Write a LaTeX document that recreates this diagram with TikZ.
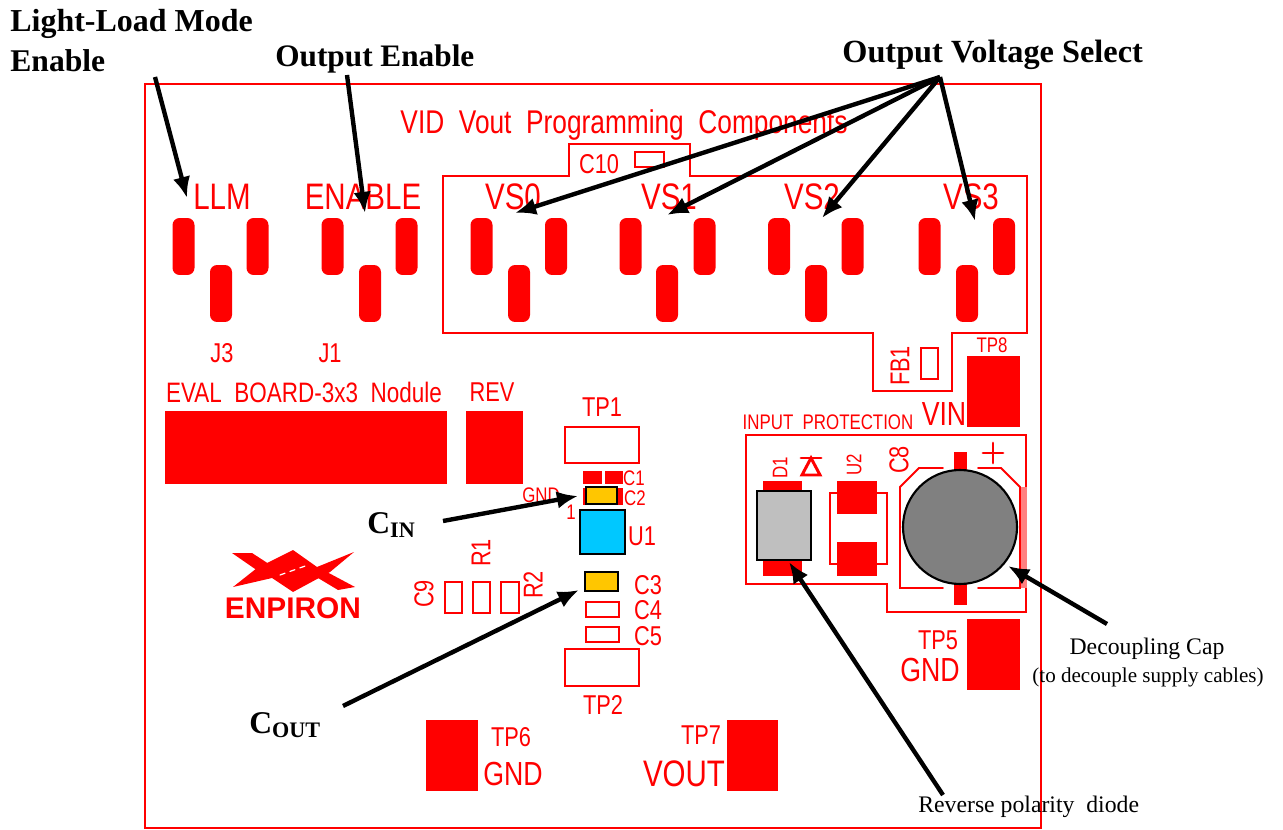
\documentclass[tikz,border=0pt]{standalone}
\usepackage{fontspec}
\setmainfont{Liberation Serif}
\setsansfont{Liberation Sans}
\newfontfamily\cadfont[FakeStretch=0.8]{Liberation Sans}
\usetikzlibrary{arrows.meta}

\definecolor{partorange}{HTML}{FFC600}
\definecolor{partblue}{HTML}{00C8FF}
\definecolor{partgray}{HTML}{BFBFBF}
\definecolor{bandred}{HTML}{FF8080}

\begin{document}
\begin{tikzpicture}[%
        x = 0.02cm,
        y = -0.02cm,
        line cap = round,
        > = {Latex[length = 12pt, width = 10pt]},
        trace/.style = {draw = red, line width = 1.1pt},
        pad/.style = {fill = red, inner sep = 0, minimum width = 0.44cm, minimum height = 1.14cm, rounded corners = 4pt},
        cadbig/.style = {text = red, inner sep = 0, font = \cadfont\fontsize{21}{21}\selectfont},
        cadgnd/.style = {text = red, inner sep = 0, font = \cadfont\fontsize{19}{19}\selectfont},
        cadmid/.style = {text = red, inner sep = 0, font = \cadfont\fontsize{15.5}{16}\selectfont},
        cadsmall/.style = {text = red, inner sep = 0, font = \cadfont\fontsize{12}{12}\selectfont},
        callout/.style = {->, line width = 2.5pt, line cap = butt},
        boldnote/.style = {inner sep = 0, anchor = base west, font = \bfseries\fontsize{18}{18}\selectfont},
        thinnote/.style = {inner sep = 0, anchor = base, font = \fontsize{13.5}{14}\selectfont}
    ]
        \useasboundingbox (0, 0) rectangle (1283, 830);

        % Board edge and the two copper outlines.
        \draw[trace] (145, 84) rectangle (1041, 828);
        \draw[trace] (443, 176) to (569, 176) to (569, 144) to (690, 144) to (690, 176) to (1027, 176)
            to (1027, 333) to (952, 333) to (952, 391) to (873, 391) to (873, 333) to (443, 333) to cycle;
        \draw[trace] (746, 435) to (1026, 435) to (1026, 612) to (887, 612) to (887, 584) to (746, 584) to cycle;

        % Jumpers along the top.
        \node[pad] (llmA) at (183.5, 246.5) {};
        \node[pad] (llmB) at (257.5, 246.5) {};
        \node[pad] (llmC) at (221, 293.5) {};
        \node[pad] (enableA) at (332.5, 246.5) {};
        \node[pad] (enableB) at (406.5, 246.5) {};
        \node[pad] (enableC) at (370, 293.5) {};
        \node[pad] (vszeroA) at (481.5, 246.5) {};
        \node[pad] (vszeroB) at (556, 246.5) {};
        \node[pad] (vszeroC) at (519, 293.5) {};
        \node[pad] (vsoneA) at (630.5, 246.5) {};
        \node[pad] (vsoneB) at (704.5, 246.5) {};
        \node[pad] (vsoneC) at (667, 293.5) {};
        \node[pad] (vstwoA) at (779, 246.5) {};
        \node[pad] (vstwoB) at (852.5, 246.5) {};
        \node[pad] (vstwoC) at (816, 293.5) {};
        \node[pad] (vsthreeA) at (929.5, 246.5) {};
        \node[pad] (vsthreeB) at (1004, 246.5) {};
        \node[pad] (vsthreeC) at (967, 293.5) {};

        % Silkscreen text for the upper half.
        \node[cadmid, font = \cadfont\fontsize{18.7}{19}\selectfont] (title) at (624, 125) {VID\ \ Vout\ \ Programming\ \ Components};
        \node[cadmid] (cten) at (599, 164) {C10};
        \node[cadbig] (llm) at (222, 197) {LLM};
        \node[cadbig] (enable) at (363, 197) {ENABLE};
        \node[cadbig] (vszero) at (513, 197) {VS0};
        \node[cadbig] (vsone) at (669, 197) {VS1};
        \node[cadbig] (vstwo) at (812, 197) {VS2};
        \node[cadbig] (vsthree) at (971, 197) {VS3};
        \node[cadmid] (jthree) at (222, 353) {J3};
        \node[cadmid] (jone) at (330, 353) {J1};
        \node[cadmid, font = \cadfont\fontsize{16}{16}\selectfont] (evalboard) at (304, 392) {EVAL\ \ BOARD-3x3\ \ Nodule};
        \node[cadmid] (rev) at (492, 392) {REV};
        \node[cadmid, rotate = 90] (fbone) at (900, 366) {FB1};
        \node[cadsmall] (tpeight) at (992, 345) {TP8};
        \node[cadgnd] (vin) at (944, 414) {VIN};
        \node[cadsmall] (inputprot) at (828, 422) {INPUT\ \ PROTECTION};

        % Solid copper areas.
        \fill[red] (165, 411) rectangle (447, 484);
        \fill[red] (466, 411) rectangle (523, 484);
        \fill[red] (967, 356) rectangle (1020, 427);
        \fill[red] (967, 619) rectangle (1020, 690);
        \fill[red] (426, 720) rectangle (478, 791);
        \fill[red] (727, 720) rectangle (778, 791);

        % Small parts around the module.
        \draw[trace] (635, 152) rectangle (664, 167);
        \draw[trace] (921, 348) rectangle (938, 379);
        \draw[trace] (565, 427) rectangle (639, 463);
        \draw[trace] (565, 649) rectangle (639, 686);
        \fill[red] (583, 471) rectangle (602, 484);
        \fill[red] (605, 471) rectangle (623, 484);
        \fill[red] (583, 488) rectangle (623, 505);
        \draw[trace] (445, 582) rectangle (462, 613);
        \draw[trace] (473, 582) rectangle (490, 613);
        \draw[trace] (501, 582) rectangle (519, 613);
        \draw[trace] (586, 602) rectangle (619, 617);
        \draw[trace] (586, 627) rectangle (619, 642);
        \draw[line width = 1.2pt, fill = partorange] (586, 487) rectangle (617, 504);
        \draw[line width = 1.2pt, fill = partorange] (585, 572) rectangle (618, 591);
        \draw[line width = 1.2pt, fill = partblue] (580, 510) rectangle (625, 554);

        \node[cadmid] (tpone) at (602, 407) {TP1};
        \node[cadsmall] (cone) at (634, 478) {C1};
        \node[cadsmall] (ctwo) at (635, 498) {C2};
        \node[cadsmall] (gndsmall) at (541, 495) {GND};
        \node[cadsmall] (pinone) at (571, 512) {1};
        \node[cadmid] (uone) at (642, 536) {U1};
        \node[cadmid] (cthree) at (648, 585) {C3};
        \node[cadmid] (cfour) at (648, 610) {C4};
        \node[cadmid] (cfive) at (648, 636) {C5};
        \node[cadmid, rotate = 90] (cnine) at (424, 594) {C9};
        \node[cadmid, rotate = 90] (rone) at (481, 553) {R1};
        \node[cadmid, rotate = 90] (rtwo) at (533, 585) {R2};
        \node[cadmid] (tptwo) at (603, 705) {TP2};
        \node[cadmid] (tpsix) at (511, 737) {TP6};
        \node[cadgnd] (gndsix) at (513, 774) {GND};
        \node[cadmid] (tpseven) at (701, 735) {TP7};
        \node[cadbig] (vout) at (684, 774) {VOUT};

        % The logo.
        \fill[red] (233, 587) to (257, 568) to (293, 550) to (317, 567) to (354, 552) to (330, 572) to (293, 592) to (272, 578) to cycle;
        \fill[red] (232, 553) to (252, 553) to (272, 566) to (258, 571) to cycle;
        \fill[red] (325, 571) to (355, 587) to (338, 590) to (318, 578) to cycle;
        \draw[white, dashed, line width = 0.7pt] (280, 575) to (308, 565);
        \node[cadmid, font = \sffamily\bfseries\fontsize{17}{17}\selectfont] (enpiron) at (293, 608) {ENPIRON};

        % Input protection parts.
        \fill[red] (763, 481) rectangle (802, 576);
        \draw[fill = partgray, line width = 1.2pt] (757, 491) rectangle (811, 560);
        \draw[trace] (830, 493) rectangle (887, 564);
        \fill[red] (837, 481) rectangle (877, 514);
        \fill[red] (837, 542) rectangle (877, 576);
        \draw[trace, line width = 1.7pt] (811, 458) to (820, 475) to (802, 475) to cycle;
        \draw[trace, line width = 1.7pt] (801, 458) to (821, 458);
        \node[cadsmall, rotate = 90] (done) at (780, 468) {D1};
        \node[cadsmall, rotate = 90] (utwo) at (854, 465) {U2};
        \node[cadmid, rotate = 90] (ceight) at (899, 460) {C8};

        % Electrolytic cap.
        \fill[bandred] (1019, 487) rectangle (1027, 588);
        \draw[trace] (943, 468) to (919, 468) to (900, 487) to (900, 588) to (943, 588);
        \draw[trace] (978, 468) to (1001, 468) to (1020, 487) to (1020, 588) to (978, 588);
        \fill[red] (954, 452) rectangle (967, 480);
        \fill[red] (954, 575) rectangle (967, 605);
        \draw[trace, line width = 1.6pt] (983, 453) to (1003, 453);
        \draw[trace, line width = 1.6pt] (993, 443) to (993, 463);
        \draw[fill = gray, line width = 1.2pt] (960, 527) circle (57);

        \node[cadmid] (tpfive) at (938, 640) {TP5};
        \node[cadgnd] (gndfive) at (930, 670) {GND};

        % Labels round the board.
        \node[boldnote, font = \bfseries\fontsize{18.2}{18}\selectfont] (lightload) at (10, 32) {Light-Load Mode};
        \node[boldnote] (lightenable) at (10, 72) {Enable};
        \node[boldnote, font = \bfseries\fontsize{17.8}{18}\selectfont] (outenable) at (275, 67) {Output Enable};
        \node[boldnote, font = \bfseries\fontsize{18.4}{18}\selectfont] (outvoltage) at (842, 63) {Output Voltage Select};
        \node[boldnote] (cinlabel) at (367, 533) {C\textsubscript{IN}};
        \node[boldnote] (coutlabel) at (249, 733) {C\textsubscript{OUT}};
        \node[thinnote] (decoupling) at (1147, 654) {Decoupling Cap};
        \node[thinnote, font = \fontsize{12}{12}\selectfont] (decouplingsub) at (1148, 682) {(to decouple supply cables)};
        \node[thinnote, anchor = base west] (reverse) at (918, 812) {Reverse polarity\ \ diode};

        % Ends of the arrows.
        \coordinate (llmtail) at (155, 77);
        \coordinate (llmtip) at (187, 198);
        \coordinate (enabletail) at (347, 75);
        \coordinate (enabletip) at (365, 213);
        \coordinate (selecthub) at (940, 77);
        \coordinate (vszerotip) at (515, 213);
        \coordinate (vsonetip) at (667, 215);
        \coordinate (vstwotip) at (822, 218);
        \coordinate (vsthreetip) at (975, 221);
        \coordinate (cintail) at (443, 521);
        \coordinate (cintip) at (578, 496);
        \coordinate (couttail) at (343, 706);
        \coordinate (couttip) at (579, 590);
        \coordinate (reversetail) at (943, 795);
        \coordinate (reversetip) at (789, 562);
        \coordinate (decoupletail) at (1107, 624);
        \coordinate (decoupletip) at (1008, 566);

        \draw[callout] (llmtail) to (llmtip);
        \draw[callout] (enabletail) to (enabletip);
        \draw[callout] (selecthub) to (vszerotip);
        \draw[callout] (selecthub) to (vsonetip);
        \draw[callout] (selecthub) to (vstwotip);
        \draw[callout] (selecthub) to (vsthreetip);
        \draw[callout] (cintail) to (cintip);
        \draw[callout] (couttail) to (couttip);
        \draw[callout] (reversetail) to (reversetip);
        \draw[callout] (decoupletail) to (decoupletip);
    \end{tikzpicture}
\end{document}
